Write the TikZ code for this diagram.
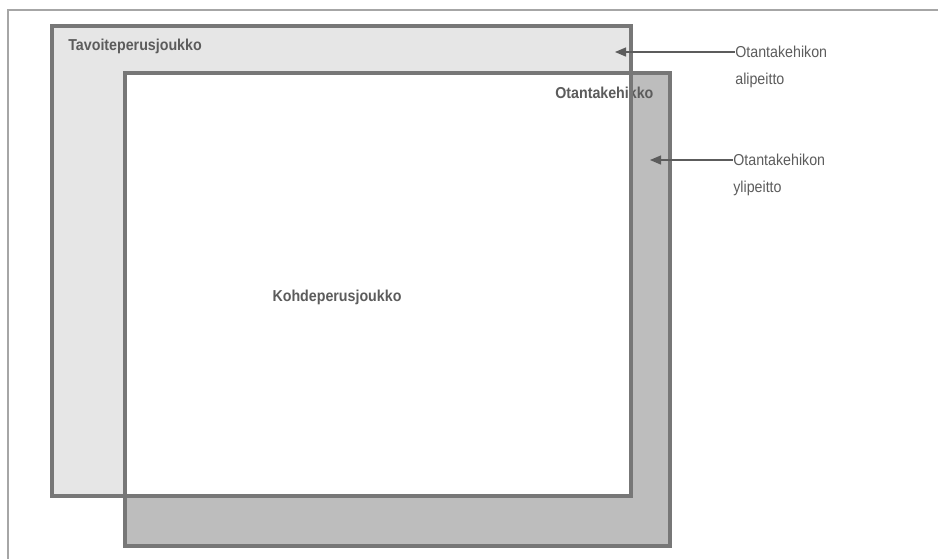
\documentclass[tikz,border=0pt]{standalone}
\usepackage{fontspec}
\setsansfont[FakeStretch=0.9]{Liberation Sans}
\usetikzlibrary{arrows.meta}
\definecolor{rim}{HTML}{777777}
\definecolor{ink}{HTML}{5C5C5C}
\definecolor{lightdots}{HTML}{E6E6E6}
\definecolor{darkdots}{HTML}{BDBDBD}

\begin{document}
\begin{tikzpicture}[x=0.02cm,y=-0.02cm]
\useasboundingbox (0,0) rectangle (938,559);
\tikzstyle{every node}=[font=\sffamily\fontsize{9}{10}\selectfont,text=ink,inner sep=0pt];
\tikzstyle{box}=[draw=rim,line width=2.2pt];
\tikzstyle{pointer}=[draw=ink,line width=0.7pt,-{Triangle[length=2.2mm,width=1.8mm]}];
% frame
\draw[gray!70,line width=0.6pt] (8,559) -- (8,10) -- (938,10);
\coordinate (t1) at (52,26);
\coordinate (t2) at (631,496);
\coordinate (k1) at (125,73);
\coordinate (k2) at (670,546);
\fill[lightdots] (t1) rectangle (t2);
\fill[darkdots] (k1) rectangle (k2);
\fill[white] (k1) rectangle (t2);
\node[anchor=west,font=\sffamily\bfseries\fontsize{9}{10}\selectfont] (tav) at (68,46) {Tavoiteperusjoukko};
\node[anchor=west,font=\sffamily\bfseries\fontsize{9}{10}\selectfont] (keh) at (555,93) {Otantakehikko};
\node[font=\sffamily\bfseries\fontsize{9}{10}\selectfont] (koh) at (337,297) {Kohdeperusjoukko};
\draw[box] (t1) rectangle (t2);
\draw[box] (k1) rectangle (k2);
% labels on the right
\node[anchor=west] (ali) at (735,52) {Otantakehikon};
\node[anchor=west] (ali2) at (735,80) {alipeitto};
\node[anchor=west] (yli) at (733,160) {Otantakehikon};
\node[anchor=west] (yli2) at (733,188) {ylipeitto};
\coordinate (alitip) at (615,52);
\coordinate (ylitip) at (650,160);
\draw [pointer] (ali.west) -- (alitip);
\draw [pointer] (yli.west) -- (ylitip);
\end{tikzpicture}
\end{document}
